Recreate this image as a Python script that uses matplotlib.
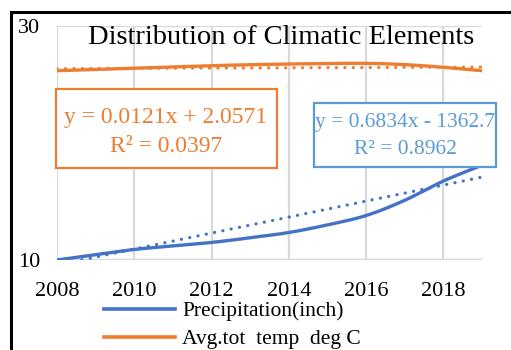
import numpy as np
import matplotlib
matplotlib.use("Agg")
import matplotlib.pyplot as plt
from matplotlib.patches import Rectangle
from matplotlib.lines import Line2D

# ---- data ----
years = [2008, 2009, 2010, 2011, 2012, 2013, 2014, 2015, 2016, 2017, 2018, 2019]
precip = [10.0, 10.45, 10.9, 11.2, 11.5, 11.9, 12.35, 13.0, 13.8, 15.1, 16.75, 18.1]
temp = [26.18, 26.29, 26.39, 26.5, 26.61, 26.69, 26.75, 26.79, 26.81, 26.7, 26.47, 26.18]
precip_trend = (0.6834, -1362.7)
temp_trend = (0.0121, 2.0571)
precip_eq = ["y = 0.6834x - 1362.7", "R\u00b2 = 0.8962"]
temp_eq = ["y = 0.0121x + 2.0571", "R\u00b2 = 0.0397"]
title = "Distribution of Climatic Elements"
series_names = ["Precipitation(inch)", "Avg.tot  temp  deg C"]
xticks = [2008, 2010, 2012, 2014, 2016, 2018]
yticks = [10, 30]

BLUE = "#4472C4"
BLUE_LIGHT = "#5B9BD5"
ORANGE = "#ED7D31"
GRID = "#D9D9D9"
W, H = 511, 350

plt.rcParams['font.family'] = ['Liberation Serif', 'DejaVu Serif']


def smooth(x, y, n=24):
    x = np.asarray(x, float); y = np.asarray(y, float)
    P = np.column_stack([x, y])
    out = []
    for i in range(len(P) - 1):
        p0 = P[i - 1] if i > 0 else P[i]
        p1, p2 = P[i], P[i + 1]
        p3 = P[i + 2] if i + 2 < len(P) else P[i + 1]
        t = np.linspace(0, 1, n)[:, None]
        seg = 0.5 * ((2 * p1) + (-p0 + p2) * t + (2 * p0 - 5 * p1 + 4 * p2 - p3) * t ** 2
                     + (-p0 + 3 * p1 - 3 * p2 + p3) * t ** 3)
        out.append(seg if i == 0 else seg[1:])
    s = np.vstack(out)
    return s[:, 0], s[:, 1]


def fx(px):
    return px / W


def fy(py):
    return 1 - py / H


fig = plt.figure(figsize=(W / 100, H / 100), dpi=100)
ax = fig.add_axes([fx(57), fy(260), fx(482) - fx(57), fy(26) - fy(260)])

ax.set_xlim(2008, 2019)
ax.set_ylim(10, 30)
ax.set_xticks(xticks)
ax.set_yticks(yticks)
ax.tick_params(length=0, labelsize=16, colors="black")
ax.tick_params(axis='x', pad=16)
ax.tick_params(axis='y', pad=12)
for s in ax.spines.values():
    s.set_visible(False)
ax.grid(True, color=GRID, linewidth=1.6)
ax.set_axisbelow(True)
ax.axhline(10, color=GRID, linewidth=1.6, zorder=0.5)

xs, ys = smooth(years, precip)
ax.plot(xs, ys, color=BLUE, lw=2.4, solid_capstyle='round', zorder=3)
xt, yt = smooth(years, temp)
ax.plot(xt, yt, color=ORANGE, lw=2.4, solid_capstyle='round', zorder=3)

tx = np.array([years[0], years[-1]], float)
ax.plot(tx, precip_trend[0] * tx + precip_trend[1], color=BLUE, lw=2.3,
        linestyle=(0, (0.05, 2.6)), dash_capstyle='round', zorder=4)
ax.plot(tx, temp_trend[0] * tx + temp_trend[1], color=ORANGE, lw=2.3,
        linestyle=(0, (0.05, 2.6)), dash_capstyle='round', zorder=4)

# title
fig.text(fx(281), fy(38), title, ha='center', va='center', fontsize=20.5, color='black')

# orange equation box
ob = Rectangle((fx(56), fy(168)), fx(277) - fx(56), fy(89) - fy(168), transform=fig.transFigure,
               fill=True, facecolor='white', edgecolor=ORANGE, lw=1.6, zorder=5)
fig.add_artist(ob)
fig.text(fx(166), fy(117), temp_eq[0], ha='center', va='center', fontsize=17, color=ORANGE, zorder=6)
fig.text(fx(166), fy(146), temp_eq[1], ha='center', va='center', fontsize=17, color=ORANGE, zorder=6)

# blue equation box
bb = Rectangle((fx(314), fy(167)), fx(496) - fx(314), fy(103) - fy(167), transform=fig.transFigure,
               fill=True, facecolor='white', edgecolor=BLUE_LIGHT, lw=1.6, zorder=5)
fig.add_artist(bb)
clip = Rectangle((fx(315), fy(166)), fx(495) - fx(315), fy(104) - fy(166), transform=fig.transFigure)
t1 = fig.text(fx(405), fy(123), precip_eq[0], ha='center', va='center', fontsize=15.5,
              color=BLUE_LIGHT, zorder=6)
t1.set_clip_path(clip)
fig.text(fx(405), fy(150), precip_eq[1], ha='center', va='center', fontsize=15.5,
         color=BLUE_LIGHT, zorder=6)

# legend
handles = [Line2D([], [], color=BLUE, lw=2.6), Line2D([], [], color=ORANGE, lw=2.6)]
fig.legend(handles, series_names, loc='upper left', bbox_to_anchor=(fx(104), fy(301)),
           frameon=False, fontsize=15.5, handlelength=3.3, handletextpad=0.33,
           labelspacing=0.38, borderpad=0, borderaxespad=0)

# outer border (left and top edges only visible)
fig.add_artist(Line2D([fx(10.5), fx(10.5), 1.5], [-0.5, fy(11.5), fy(11.5)],
                      transform=fig.transFigure, color='black', lw=2.2,
                      solid_joinstyle='miter', clip_on=False))

fig.savefig("out.png", dpi=100)
